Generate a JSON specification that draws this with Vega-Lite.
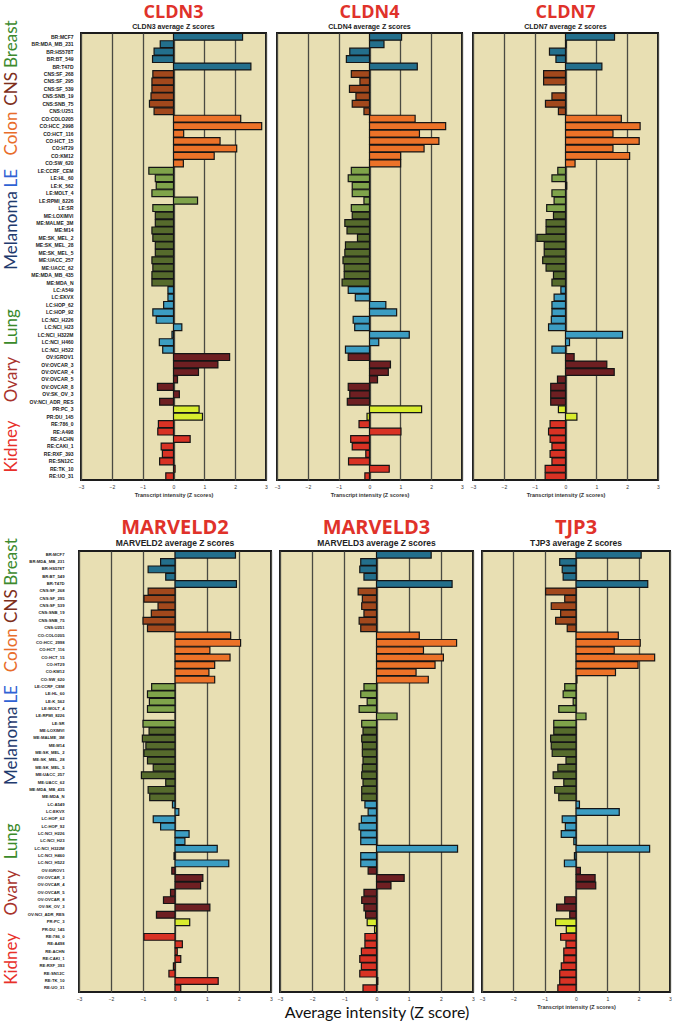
{
  "$schema": "https://vega.github.io/schema/vega-lite/v6.json",
  "background": "white",
  "padding": {"left": 0, "top": 2, "right": 0, "bottom": 0},
  "datasets": {
    "cells": [
      {"c": "BR:MCF7", "t": "BR", "CLDN3": 2.24, "CLDN4": 1.04, "CLDN7": 1.59, "MARVELD2": 1.89, "MARVELD3": 1.70, "TJP3": 2.08},
      {"c": "BR:MDA_MB_231", "t": "BR", "CLDN3": -0.43, "CLDN4": 0.47, "CLDN7": 0.02, "MARVELD2": -0.45, "MARVELD3": -0.49, "TJP3": -0.52},
      {"c": "BR:HS578T", "t": "BR", "CLDN3": -0.63, "CLDN4": -0.64, "CLDN7": -0.52, "MARVELD2": -0.84, "MARVELD3": -0.52, "TJP3": -0.44},
      {"c": "BR:BT_549", "t": "BR", "CLDN3": -0.68, "CLDN4": -0.75, "CLDN7": -0.31, "MARVELD2": -0.29, "MARVELD3": -0.39, "TJP3": -0.41},
      {"c": "BR:T47D", "t": "BR", "CLDN3": 2.51, "CLDN4": 1.55, "CLDN7": 1.18, "MARVELD2": 1.92, "MARVELD3": 2.35, "TJP3": 2.29},
      {"c": "CNS:SF_268", "t": "CNS", "CLDN3": -0.67, "CLDN4": -0.59, "CLDN7": -0.71, "MARVELD2": -0.84, "MARVELD3": -0.57, "TJP3": -0.97},
      {"c": "CNS:SF_295", "t": "CNS", "CLDN3": -0.70, "CLDN4": -0.31, "CLDN7": -0.71, "MARVELD2": -0.97, "MARVELD3": -0.44, "TJP3": -0.36},
      {"c": "CNS:SF_539", "t": "CNS", "CLDN3": -0.70, "CLDN4": -0.65, "CLDN7": 0.0, "MARVELD2": -0.53, "MARVELD3": -0.46, "TJP3": -0.79},
      {"c": "CNS:SNB_19", "t": "CNS", "CLDN3": -0.73, "CLDN4": -0.44, "CLDN7": -0.44, "MARVELD2": -0.74, "MARVELD3": -0.39, "TJP3": -0.49},
      {"c": "CNS:SNB_75", "t": "CNS", "CLDN3": -0.78, "CLDN4": -0.56, "CLDN7": -0.65, "MARVELD2": -1.00, "MARVELD3": -0.54, "TJP3": -0.65},
      {"c": "CNS:U251", "t": "CNS", "CLDN3": -0.63, "CLDN4": -0.18, "CLDN7": -0.23, "MARVELD2": -0.86, "MARVELD3": -0.49, "TJP3": -0.28},
      {"c": "CO:COLO205", "t": "CO", "CLDN3": 2.18, "CLDN4": 1.48, "CLDN7": 1.81, "MARVELD2": 1.74, "MARVELD3": 1.33, "TJP3": 1.35},
      {"c": "CO:HCC_2998", "t": "CO", "CLDN3": 2.86, "CLDN4": 2.47, "CLDN7": 2.42, "MARVELD2": 2.05, "MARVELD3": 2.49, "TJP3": 2.05},
      {"c": "CO:HCT_116", "t": "CO", "CLDN3": 0.33, "CLDN4": 1.62, "CLDN7": 1.54, "MARVELD2": 1.09, "MARVELD3": 1.46, "TJP3": 1.22},
      {"c": "CO:HCT_15", "t": "CO", "CLDN3": 1.51, "CLDN4": 2.25, "CLDN7": 2.39, "MARVELD2": 1.72, "MARVELD3": 2.08, "TJP3": 2.51},
      {"c": "CO:HT29", "t": "CO", "CLDN3": 2.05, "CLDN4": 1.77, "CLDN7": 1.54, "MARVELD2": 1.24, "MARVELD3": 1.82, "TJP3": 1.98},
      {"c": "CO:KM12", "t": "CO", "CLDN3": 1.32, "CLDN4": 1.01, "CLDN7": 2.08, "MARVELD2": 1.06, "MARVELD3": 1.23, "TJP3": 1.26},
      {"c": "CO:SW_620", "t": "CO", "CLDN3": 0.32, "CLDN4": 1.01, "CLDN7": 0.31, "MARVELD2": 1.24, "MARVELD3": 1.61, "TJP3": 0.03},
      {"c": "LE:CCRF_CEM", "t": "LE", "CLDN3": -0.80, "CLDN4": -0.59, "CLDN7": -0.25, "MARVELD2": -0.73, "MARVELD3": -0.39, "TJP3": -0.36},
      {"c": "LE:HL_60", "t": "LE", "CLDN3": -0.59, "CLDN4": -0.69, "CLDN7": -0.44, "MARVELD2": -0.86, "MARVELD3": -0.49, "TJP3": -0.41},
      {"c": "LE:K_562", "t": "LE", "CLDN3": -0.56, "CLDN4": -0.56, "CLDN7": 0.04, "MARVELD2": -0.80, "MARVELD3": -0.29, "TJP3": -0.09},
      {"c": "LE:MOLT_4", "t": "LE", "CLDN3": -0.70, "CLDN4": -0.56, "CLDN7": -0.44, "MARVELD2": -0.86, "MARVELD3": -0.54, "TJP3": -0.55},
      {"c": "LE:RPMI_8226", "t": "LE", "CLDN3": 0.78, "CLDN4": -0.18, "CLDN7": -0.37, "MARVELD2": 0.0, "MARVELD3": 0.64, "TJP3": 0.32},
      {"c": "LE:SR", "t": "LE", "CLDN3": -0.67, "CLDN4": -0.59, "CLDN7": -0.61, "MARVELD2": -1.00, "MARVELD3": -0.46, "TJP3": -0.71},
      {"c": "ME:LOXIMVI", "t": "ME", "CLDN3": -0.59, "CLDN4": -0.56, "CLDN7": -0.39, "MARVELD2": -0.81, "MARVELD3": -0.42, "TJP3": -0.71},
      {"c": "ME:MALME_3M", "t": "ME", "CLDN3": -0.59, "CLDN4": -0.80, "CLDN7": -0.63, "MARVELD2": -1.02, "MARVELD3": -0.46, "TJP3": -0.81},
      {"c": "ME:M14", "t": "ME", "CLDN3": -0.70, "CLDN4": -0.73, "CLDN7": -0.63, "MARVELD2": -0.91, "MARVELD3": -0.44, "TJP3": -0.79},
      {"c": "ME:SK_MEL_2", "t": "ME", "CLDN3": -0.67, "CLDN4": -0.39, "CLDN7": -0.93, "MARVELD2": -0.97, "MARVELD3": -0.44, "TJP3": -0.76},
      {"c": "ME:SK_MEL_28", "t": "ME", "CLDN3": -0.59, "CLDN4": -0.78, "CLDN7": -0.69, "MARVELD2": -0.86, "MARVELD3": -0.42, "TJP3": -0.32},
      {"c": "ME:SK_MEL_5", "t": "ME", "CLDN3": -0.59, "CLDN4": -0.80, "CLDN7": -0.69, "MARVELD2": -0.68, "MARVELD3": -0.44, "TJP3": -0.58},
      {"c": "ME:UACC_257", "t": "ME", "CLDN3": -0.70, "CLDN4": -0.86, "CLDN7": -0.74, "MARVELD2": -1.05, "MARVELD3": -0.46, "TJP3": -0.73},
      {"c": "ME:UACC_62", "t": "ME", "CLDN3": -0.67, "CLDN4": -0.82, "CLDN7": -0.63, "MARVELD2": -0.29, "MARVELD3": -0.42, "TJP3": -0.39},
      {"c": "ME:MDA_MB_435", "t": "ME", "CLDN3": -0.70, "CLDN4": -0.82, "CLDN7": -0.39, "MARVELD2": -0.84, "MARVELD3": -0.46, "TJP3": -0.68},
      {"c": "ME:MDA_N", "t": "ME", "CLDN3": -0.70, "CLDN4": -0.89, "CLDN7": -0.44, "MARVELD2": -0.79, "MARVELD3": -0.46, "TJP3": -0.55},
      {"c": "LC:A549", "t": "LC", "CLDN3": -0.18, "CLDN4": -0.69, "CLDN7": -0.15, "MARVELD2": -0.08, "MARVELD3": -0.36, "TJP3": 0.11},
      {"c": "LC:EKVX", "t": "LC", "CLDN3": -0.18, "CLDN4": -0.46, "CLDN7": -0.37, "MARVELD2": 0.12, "MARVELD3": -0.26, "TJP3": 1.38},
      {"c": "LC:HOP_62", "t": "LC", "CLDN3": -0.32, "CLDN4": 0.53, "CLDN7": -0.44, "MARVELD2": -0.68, "MARVELD3": -0.47, "TJP3": -0.44},
      {"c": "LC:HOP_92", "t": "LC", "CLDN3": -0.67, "CLDN4": 0.88, "CLDN7": -0.44, "MARVELD2": -0.45, "MARVELD3": -0.54, "TJP3": -0.34},
      {"c": "LC:NCI_H226", "t": "LC", "CLDN3": -0.56, "CLDN4": -0.53, "CLDN7": -0.46, "MARVELD2": 0.44, "MARVELD3": -0.49, "TJP3": -0.47},
      {"c": "LC:NCI_H23", "t": "LC", "CLDN3": 0.27, "CLDN4": -0.48, "CLDN7": -0.55, "MARVELD2": 0.31, "MARVELD3": -0.49, "TJP3": -0.07},
      {"c": "LC:NCI_H322M", "t": "LC", "CLDN3": -0.05, "CLDN4": 1.29, "CLDN7": 1.85, "MARVELD2": 1.32, "MARVELD3": 2.52, "TJP3": 2.35},
      {"c": "LC:NCI_H460", "t": "LC", "CLDN3": -0.46, "CLDN4": 0.30, "CLDN7": 0.13, "MARVELD2": -0.03, "MARVELD3": -0.49, "TJP3": -0.05},
      {"c": "LC:NCI_H522", "t": "LC", "CLDN3": -0.35, "CLDN4": -0.78, "CLDN7": -0.44, "MARVELD2": 1.68, "MARVELD3": -0.49, "TJP3": -0.37},
      {"c": "OV:IGROV1", "t": "OV", "CLDN3": 1.82, "CLDN4": -0.69, "CLDN7": 0.28, "MARVELD2": -0.10, "MARVELD3": -0.26, "TJP3": 0.14},
      {"c": "OV:OVCAR_3", "t": "OV", "CLDN3": 1.44, "CLDN4": 0.68, "CLDN7": 1.34, "MARVELD2": 0.87, "MARVELD3": 0.86, "TJP3": 0.61},
      {"c": "OV:OVCAR_4", "t": "OV", "CLDN3": 0.81, "CLDN4": 0.61, "CLDN7": 1.58, "MARVELD2": 0.80, "MARVELD3": 0.45, "TJP3": 0.63},
      {"c": "OV:OVCAR_5", "t": "OV", "CLDN3": 0.13, "CLDN4": 0.26, "CLDN7": -0.26, "MARVELD2": -0.14, "MARVELD3": -0.39, "TJP3": 0.0},
      {"c": "OV:OVCAR_8", "t": "OV", "CLDN3": -0.52, "CLDN4": -0.69, "CLDN7": -0.48, "MARVELD2": -0.36, "MARVELD3": -0.46, "TJP3": -0.36},
      {"c": "OV:SK_OV_3", "t": "OV", "CLDN3": 0.19, "CLDN4": -0.64, "CLDN7": -0.48, "MARVELD2": 1.09, "MARVELD3": -0.39, "TJP3": -0.62},
      {"c": "OV:NCI_ADR_RES", "t": "OV", "CLDN3": -0.45, "CLDN4": -0.72, "CLDN7": -0.48, "MARVELD2": -0.58, "MARVELD3": -0.34, "TJP3": -0.20},
      {"c": "PR:PC_3", "t": "PR", "CLDN3": 0.83, "CLDN4": 1.69, "CLDN7": -0.23, "MARVELD2": 0.46, "MARVELD3": -0.29, "TJP3": -0.65},
      {"c": "PR:DU_145", "t": "PR", "CLDN3": 0.94, "CLDN4": -0.08, "CLDN7": 0.37, "MARVELD2": 0.0, "MARVELD3": -0.06, "TJP3": -0.31},
      {"c": "RE:786_0", "t": "RE", "CLDN3": -0.49, "CLDN4": -0.34, "CLDN7": -0.50, "MARVELD2": -0.97, "MARVELD3": -0.36, "TJP3": -0.49},
      {"c": "RE:A498", "t": "RE", "CLDN3": -0.51, "CLDN4": 1.02, "CLDN7": -0.55, "MARVELD2": 0.23, "MARVELD3": -0.36, "TJP3": -0.32},
      {"c": "RE:ACHN", "t": "RE", "CLDN3": 0.54, "CLDN4": -0.61, "CLDN7": -0.50, "MARVELD2": 0.07, "MARVELD3": -0.47, "TJP3": -0.39},
      {"c": "RE:CAKI_1", "t": "RE", "CLDN3": -0.40, "CLDN4": -0.56, "CLDN7": -0.44, "MARVELD2": 0.18, "MARVELD3": -0.52, "TJP3": -0.39},
      {"c": "RE:RXF_393", "t": "RE", "CLDN3": -0.36, "CLDN4": -0.12, "CLDN7": -0.50, "MARVELD2": -0.05, "MARVELD3": -0.47, "TJP3": -0.47},
      {"c": "RE:SN12C", "t": "RE", "CLDN3": -0.45, "CLDN4": -0.68, "CLDN7": -0.44, "MARVELD2": -0.19, "MARVELD3": -0.52, "TJP3": -0.52},
      {"c": "RE:TK_10", "t": "RE", "CLDN3": 0.05, "CLDN4": 0.64, "CLDN7": -0.66, "MARVELD2": 1.35, "MARVELD3": 0.04, "TJP3": -0.52},
      {"c": "RE:UO_31", "t": "RE", "CLDN3": -0.25, "CLDN4": -0.15, "CLDN7": -0.66, "MARVELD2": 0.18, "MARVELD3": -0.42, "TJP3": -0.58}
    ],
    "groups": [
      {"anchor": "BR:MDA_MB_231", "label": "Breast"},
      {"anchor": "CNS:SF_539", "label": "CNS"},
      {"anchor": "CO:HCT_116", "label": "Colon"},
      {"anchor": "LE:HL_60", "label": "LE"},
      {"anchor": "ME:M14", "label": "Melanoma"},
      {"anchor": "LC:NCI_H23", "label": "Lung"},
      {"anchor": "OV:OVCAR_5", "label": "Ovary"},
      {"anchor": "RE:CAKI_1", "label": "Kidney"}
    ]
  },
  "config": {
    "view": {"fill": "#e8dfb3", "stroke": "#1c1c1c", "strokeWidth": 2},
    "title": {"font": "Open Sans", "fontWeight": "bold", "fontSize": 18, "color": "#e0322a", "anchor": "middle", "frame": "group", "subtitleFont": "Liberation Sans", "subtitleFontWeight": "bold", "subtitleFontSize": 7, "subtitleColor": "#222222", "subtitlePadding": 1, "offset": 3},
    "axisX": {"grid": true, "gridColor": "#4a4a42", "gridWidth": 1.3, "ticks": false, "domain": false, "labelFont": "Liberation Sans", "labelFontSize": 5, "labelColor": "#333333", "labelPadding": 4, "labelFlush": false, "titleFont": "Liberation Sans", "titleFontSize": 5.5, "titleFontWeight": "bold", "titleColor": "#333333", "titlePadding": 3},
    "axisY": {"ticks": false, "domain": false, "grid": false, "labelFont": "Liberation Sans", "labelFontSize": 5.0, "labelFontWeight": "bold", "labelColor": "#222222", "labelPadding": 8}
  },
  "resolve": {"scale": {"x": "independent", "y": "independent", "color": "independent"}},
  "spacing": 18,
  "vconcat": [
    {
      "spacing": 4,
      "resolve": {"scale": {"x": "independent", "y": "independent", "color": "independent"}},
      "hconcat": [
        {
          "width": 22, "height": 447,
          "view": {"fill": "transparent", "stroke": "transparent"},
          "data": {"name": "cells"},
          "transform": [{"lookup": "c", "from": {"data": {"name": "groups"}, "key": "anchor", "fields": ["label"]}, "default": ""}],
          "mark": {"type": "text", "angle": 270, "font": "Lato", "fontSize": 17, "align": "center", "baseline": "middle"},
          "encoding": {
            "y": {"field": "c", "type": "nominal", "sort": null, "axis": null},
            "text": {"field": "label"},
            "color": {"field": "label", "type": "nominal", "legend": null, "scale": {"domain": ["Breast", "CNS", "Colon", "LE", "Melanoma", "Lung", "Ovary", "Kidney", ""], "range": ["#3d8a2e", "#7e2f1c", "#e86d2b", "#2f62d4", "#1f3a6e", "#3a8a2a", "#a8332c", "#e8302a", "#ffffff"]}}
          }
        },
        {
          "width": 185, "height": 447,
          "title": {"text": "CLDN3", "subtitle": "CLDN3 average Z scores"},
          "data": {"name": "cells"},
          "mark": {"type": "bar", "stroke": "#151515", "strokeWidth": 1.2},
          "encoding": {
            "y": {"field": "c", "type": "nominal", "sort": null, "title": null, "scale": {"paddingInner": 0.08, "paddingOuter": 0.04}},
            "x": {"field": "CLDN3", "type": "quantitative", "scale": {"domain": [-3, 3], "nice": false}, "axis": {"values": [-3, -2, -1, 0, 1, 2, 3], "title": "Transcript intensity (Z scores)"}},
            "color": {"field": "t", "type": "nominal", "legend": null, "scale": {"domain": ["BR", "CNS", "CO", "LE", "ME", "LC", "OV", "PR", "RE"], "range": ["#236f8c", "#a2481c", "#ec7228", "#7fa34a", "#566b2c", "#3c9dc2", "#6e1f22", "#d8ec2e", "#d93224"]}}
          }
        },
        {
          "width": 185, "height": 447,
          "title": {"text": "CLDN4", "subtitle": "CLDN4 average Z scores"},
          "data": {"name": "cells"},
          "mark": {"type": "bar", "stroke": "#151515", "strokeWidth": 1.2},
          "encoding": {
            "y": {"field": "c", "type": "nominal", "sort": null, "axis": null, "scale": {"paddingInner": 0.08, "paddingOuter": 0.04}},
            "x": {"field": "CLDN4", "type": "quantitative", "scale": {"domain": [-3, 3], "nice": false}, "axis": {"values": [-3, -2, -1, 0, 1, 2, 3], "title": "Transcript intensity (Z scores)"}},
            "color": {"field": "t", "type": "nominal", "legend": null, "scale": {"domain": ["BR", "CNS", "CO", "LE", "ME", "LC", "OV", "PR", "RE"], "range": ["#236f8c", "#a2481c", "#ec7228", "#7fa34a", "#566b2c", "#3c9dc2", "#6e1f22", "#d8ec2e", "#d93224"]}}
          }
        },
        {
          "width": 185, "height": 447,
          "title": {"text": "CLDN7", "subtitle": "CLDN7 average Z scores"},
          "data": {"name": "cells"},
          "mark": {"type": "bar", "stroke": "#151515", "strokeWidth": 1.2},
          "encoding": {
            "y": {"field": "c", "type": "nominal", "sort": null, "axis": null, "scale": {"paddingInner": 0.08, "paddingOuter": 0.04}},
            "x": {"field": "CLDN7", "type": "quantitative", "scale": {"domain": [-3, 3], "nice": false}, "axis": {"values": [-3, -2, -1, 0, 1, 2, 3], "title": "Transcript intensity (Z scores)"}},
            "color": {"field": "t", "type": "nominal", "legend": null, "scale": {"domain": ["BR", "CNS", "CO", "LE", "ME", "LC", "OV", "PR", "RE"], "range": ["#236f8c", "#a2481c", "#ec7228", "#7fa34a", "#566b2c", "#3c9dc2", "#6e1f22", "#d8ec2e", "#d93224"]}}
          }
        }
      ]
    },
    {
      "spacing": 2,
      "resolve": {"scale": {"x": "independent", "y": "independent", "color": "independent"}},
      "hconcat": [
        {
          "width": 22, "height": 441,
          "view": {"fill": "transparent", "stroke": "transparent"},
          "data": {"name": "cells"},
          "transform": [{"lookup": "c", "from": {"data": {"name": "groups"}, "key": "anchor", "fields": ["label"]}, "default": ""}],
          "mark": {"type": "text", "angle": 270, "font": "Lato", "fontSize": 17, "align": "center", "baseline": "middle"},
          "encoding": {
            "y": {"field": "c", "type": "nominal", "sort": null, "axis": null},
            "text": {"field": "label"},
            "color": {"field": "label", "type": "nominal", "legend": null, "scale": {"domain": ["Breast", "CNS", "Colon", "LE", "Melanoma", "Lung", "Ovary", "Kidney", ""], "range": ["#3d8a2e", "#7e2f1c", "#e86d2b", "#2f62d4", "#1f3a6e", "#3a8a2a", "#a8332c", "#e8302a", "#ffffff"]}}
          }
        },
        {
          "width": 192, "height": 441,
          "title": {"text": "MARVELD2", "subtitle": "MARVELD2 average Z scores", "fontSize": 20, "subtitleFontSize": 8.5},
          "data": {"name": "cells"},
          "mark": {"type": "bar", "stroke": "#151515", "strokeWidth": 1.2},
          "encoding": {
            "y": {"field": "c", "type": "nominal", "sort": null, "title": null, "scale": {"paddingInner": 0.08, "paddingOuter": 0.04}, "axis": {"labelFontSize": 4.2, "labelPadding": 15}},
            "x": {"field": "MARVELD2", "type": "quantitative", "scale": {"domain": [-3, 3], "nice": false}, "axis": {"values": [-3, -2, -1, 0, 1, 2, 3], "title": null}},
            "color": {"field": "t", "type": "nominal", "legend": null, "scale": {"domain": ["BR", "CNS", "CO", "LE", "ME", "LC", "OV", "PR", "RE"], "range": ["#236f8c", "#a2481c", "#ec7228", "#7fa34a", "#566b2c", "#3c9dc2", "#6e1f22", "#d8ec2e", "#d93224"]}}
          }
        },
        {
          "width": 193, "height": 441,
          "title": {"text": "MARVELD3", "subtitle": "MARVELD3 average Z scores", "fontSize": 20, "subtitleFontSize": 8.5},
          "data": {"name": "cells"},
          "mark": {"type": "bar", "stroke": "#151515", "strokeWidth": 1.2},
          "encoding": {
            "y": {"field": "c", "type": "nominal", "sort": null, "axis": null, "scale": {"paddingInner": 0.08, "paddingOuter": 0.04}},
            "x": {"field": "MARVELD3", "type": "quantitative", "scale": {"domain": [-3, 3], "nice": false}, "axis": {"values": [-3, -2, -1, 0, 1, 2, 3], "title": "Average intensity (Z score)", "titleFont": "Lato", "titleFontSize": 16, "titleFontWeight": "normal", "titleColor": "#111111", "titlePadding": 3}},
            "color": {"field": "t", "type": "nominal", "legend": null, "scale": {"domain": ["BR", "CNS", "CO", "LE", "ME", "LC", "OV", "PR", "RE"], "range": ["#236f8c", "#a2481c", "#ec7228", "#7fa34a", "#566b2c", "#3c9dc2", "#6e1f22", "#d8ec2e", "#d93224"]}}
          }
        },
        {
          "width": 188, "height": 441,
          "title": {"text": "TJP3", "subtitle": "TJP3 average Z scores", "fontSize": 20, "subtitleFontSize": 8.5},
          "data": {"name": "cells"},
          "mark": {"type": "bar", "stroke": "#151515", "strokeWidth": 1.2},
          "encoding": {
            "y": {"field": "c", "type": "nominal", "sort": null, "axis": null, "scale": {"paddingInner": 0.08, "paddingOuter": 0.04}},
            "x": {"field": "TJP3", "type": "quantitative", "scale": {"domain": [-3, 3], "nice": false}, "axis": {"values": [-3, -2, -1, 0, 1, 2, 3], "title": "Transcript intensity (Z scores)"}},
            "color": {"field": "t", "type": "nominal", "legend": null, "scale": {"domain": ["BR", "CNS", "CO", "LE", "ME", "LC", "OV", "PR", "RE"], "range": ["#236f8c", "#a2481c", "#ec7228", "#7fa34a", "#566b2c", "#3c9dc2", "#6e1f22", "#d8ec2e", "#d93224"]}}
          }
        }
      ]
    }
  ]
}
